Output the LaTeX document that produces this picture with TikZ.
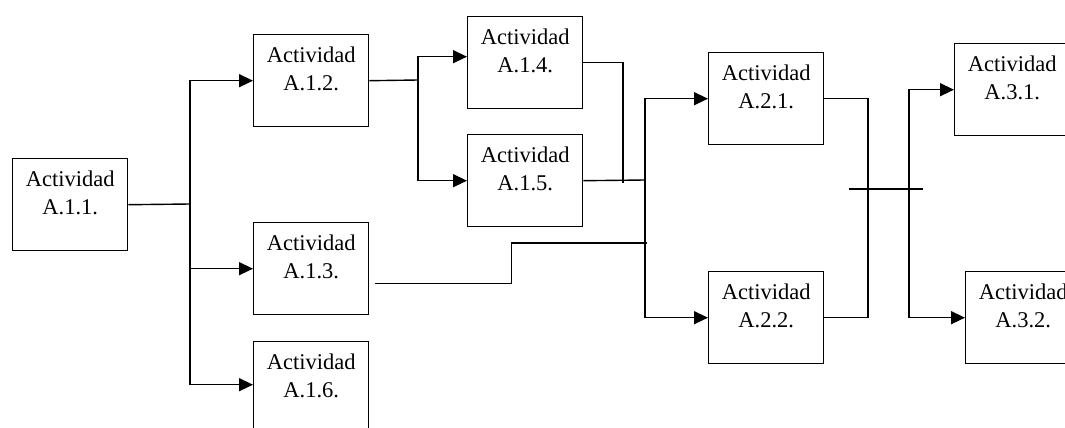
\documentclass[tikz,border=0pt]{standalone}
\usepackage{fontspec}
\setmainfont{Liberation Serif}
\usetikzlibrary{arrows.meta}
\tikzset{
    act/.style={rectangle, draw=black, line width=1.4pt, fill=white, minimum width=115pt, minimum height=92pt, anchor=north west, inner sep=0pt},
    acttext/.style={anchor=north, align=center, inner sep=0pt, yshift=-13pt, font=\fontsize{22.5}{28}\selectfont},
    arrow/.style={-{Triangle[length=14pt, width=13pt]}, line width=1.4pt},
    link/.style={line width=1.4pt}
}
\begin{document}
\begin{tikzpicture}[x=1pt, y=-1pt]
        \useasboundingbox (0,0) rectangle (1065,428);
        \clip (0,0) rectangle (1065,428);

        % activities
        \node[act, label={[acttext]north:Actividad\\A.1.1.}] (A11) at (12,158) {};
        \node[act, label={[acttext]north:Actividad\\A.1.2.}] (A12) at (253,34) {};
        \node[act, label={[acttext]north:Actividad\\A.1.3.}] (A13) at (253,222) {};
        \node[act, label={[acttext]north:Actividad\\A.1.6.}] (A16) at (253,341) {};
        \node[act, label={[acttext]north:Actividad\\A.1.4.}] (A14) at (467,16) {};
        \node[act, label={[acttext]north:Actividad\\A.1.5.}] (A15) at (467,134) {};
        \node[act, label={[acttext]north:Actividad\\A.2.1.}] (A21) at (708,52) {};
        \node[act, label={[acttext]north:Actividad\\A.2.2.}] (A22) at (708,271) {};
        \node[act, label={[acttext]north:Actividad\\A.3.1.}] (A31) at (954,43) {};
        \node[act, label={[acttext]north:Actividad\\A.3.2.}] (A32) at (965,271) {};

        % branch points
        \coordinate (J1) at (190,204);
        \coordinate (J2) at (418,80);
        \coordinate (J3) at (645,180);
        \coordinate (E14) at (623,183);
        \coordinate (E13) at (647,243);
        \coordinate (J4) at (868,189);
        \coordinate (J5) at (909,189);
        \coordinate (T1) at (849,189);
        \coordinate (T2) at (923,189);

        \draw[link] (A11.east) -- (J1);
        \draw[arrow] (J1) |- (A12.west);
        \draw[arrow] (J1) |- (A13.west);
        \draw[arrow] (J1) |- ([yshift=3pt]A16.west);

        \draw[link] (A12.east) -- (J2);
        \draw[arrow] (J2) |- ([yshift=6pt]A14.west);
        \draw[arrow] (J2) |- (A15.west);

        \draw[link] (A14.east) -| (E14);
        \draw[link] (A15.east) -- (J3);
        \draw[link] ([xshift=6pt, yshift=-15pt]A13.east) -- ++(136,0) |- (E13);
        \draw[arrow] (J3) |- (A21.west);
        \draw[arrow] (J3) |- (A22.west);

        \draw[link] (A21.east) -| (J4) |- (A22.east);
        \draw[link] (T1) -- (T2);
        \draw[arrow] (J5) |- (A31.west);
        \draw[arrow] (J5) |- (A32.west);
    \end{tikzpicture}
\end{document}
